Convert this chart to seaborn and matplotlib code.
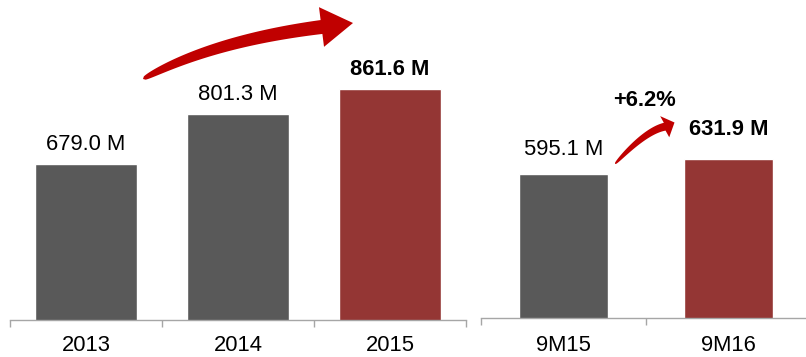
import numpy as np
import matplotlib
matplotlib.use("Agg")
import matplotlib.pyplot as plt
from matplotlib.patches import Polygon
import seaborn as sns

# Annual revenue and nine-month comparison
years = ["2013", "2014", "2015"]
year_values = [679.0, 801.3, 861.6]
periods = ["9M15", "9M16"]
period_values = [595.1, 631.9]
growth_label = "+6.2%"

GRAY = "#595959"
RED = "#943634"
ARROW = "#c00000"
AXIS = "#a6a6a6"

sns.set_theme(style="white")
plt.rcParams["font.family"] = ["Liberation Sans", "DejaVu Sans"]

W, H = 806, 357
fig = plt.figure(figsize=(W / 100, H / 100), dpi=100)
FS = 15.8


def px_axes(x0, y_base, w, h):
    """Axes placed by pixel box; y_base is the baseline measured from the top."""
    return fig.add_axes([x0 / W, (H - y_base) / H, w / W, h / H])


def style_axis(ax, n, labels, pad):
    for s in ["left", "right", "top"]:
        ax.spines[s].set_visible(False)
    ax.spines["bottom"].set_color(AXIS)
    ax.spines["bottom"].set_linewidth(1.0)
    ax.set_xlim(-0.5, n - 0.5)
    ax.set_xticks(np.arange(n + 1) - 0.5)
    ax.set_xticklabels([])
    ax.set_xticks(np.arange(n), minor=True)
    ax.set_xticklabels(labels, minor=True, fontsize=FS)
    ax.tick_params(axis="x", which="major", direction="out", length=5,
                   width=1.0, color=AXIS, bottom=True)
    ax.tick_params(axis="x", which="minor", length=0, pad=pad, colors="black")
    ax.set_yticks([])
    ax.set_xlabel("")
    ax.set_ylabel("")
    ax.set_facecolor("none")


# Left panel: full years
ax1 = px_axes(10, 320, 456, 320)
sns.barplot(x=years, y=year_values, hue=years, palette=[GRAY, GRAY, RED],
            width=0.67, legend=False, ax=ax1, saturation=1)
ax1.set_ylim(297, 297 + 320 / 0.4088)
style_axis(ax1, len(years), years, pad=10.6)

year_offsets = [19, 19, 20]
year_bold = [False, False, True]
for i, (v, off, b) in enumerate(zip(year_values, year_offsets, year_bold)):
    ax1.annotate(f"{v:.1f} M", (i, v), xytext=(0, off * 0.72), textcoords="offset points",
                 ha="center", va="center", fontsize=FS,
                 fontweight="bold" if b else "normal", color="black")

# Right panel: nine months
ax2 = px_axes(481, 317.5, 330, 317.5)
sns.barplot(x=periods, y=period_values, hue=periods, palette=[GRAY, RED],
            width=0.54, legend=False, ax=ax2, saturation=1)
ax2.set_ylim(243, 243 + 317.5 / 0.4076)
style_axis(ax2, len(periods), periods, pad=12.4)
ax2.spines["bottom"].set_clip_on(False)

period_offsets = [24, 29]
period_bold = [False, True]
for i, (v, off, b) in enumerate(zip(period_values, period_offsets, period_bold)):
    ax2.annotate(f"{v:.1f} M", (i, v), xytext=(0, off * 0.72), textcoords="offset points",
                 ha="center", va="center", fontsize=FS,
                 fontweight="bold" if b else "normal", color="black")

fig.text(645 / W, 1 - 100 / H, growth_label, ha="center", va="center",
         fontsize=FS, fontweight="bold", color="black")


def curved_arrow(tail, ctrl, base, tip, body_w, head_hw, power=0.35):
    """Tapered curved arrow drawn in pixel space (origin at top-left)."""
    p0, p1, p2 = map(np.asarray, (tail, ctrl, base))
    t = np.linspace(0, 1, 80)[:, None]
    pts = (1 - t) ** 2 * p0 + 2 * (1 - t) * t * p1 + t ** 2 * p2
    d = 2 * (1 - t) * (p1 - p0) + 2 * t * (p2 - p1)
    d /= np.linalg.norm(d, axis=1, keepdims=True)
    nrm = np.column_stack([d[:, 1], -d[:, 0]])
    w = body_w * (t[:, 0] ** power)
    upper = pts + nrm * (w[:, None] / 2)
    lower = pts - nrm * (w[:, None] / 2)
    tipv = np.asarray(tip, float)
    hd = tipv - p2
    hd /= np.linalg.norm(hd)
    hn = np.array([hd[1], -hd[0]])
    head = [p2 + hn * head_hw, tipv, p2 - hn * head_hw]
    poly = np.vstack([upper, [head[0]], [head[1]], [head[2]], lower[::-1]])
    poly = np.column_stack([poly[:, 0] / W, 1 - poly[:, 1] / H])
    fig.add_artist(Polygon(poly, closed=True, facecolor=ARROW, edgecolor="none",
                           transform=fig.transFigure))


curved_arrow((143, 79), (212, 41), (321.5, 27), (353, 23), 14, 20, power=0.3)
curved_arrow((615, 164), (645, 131), (664.7, 126.7), (674.5, 122.5), 8, 11.5)

fig.savefig("out.png", dpi=100)
